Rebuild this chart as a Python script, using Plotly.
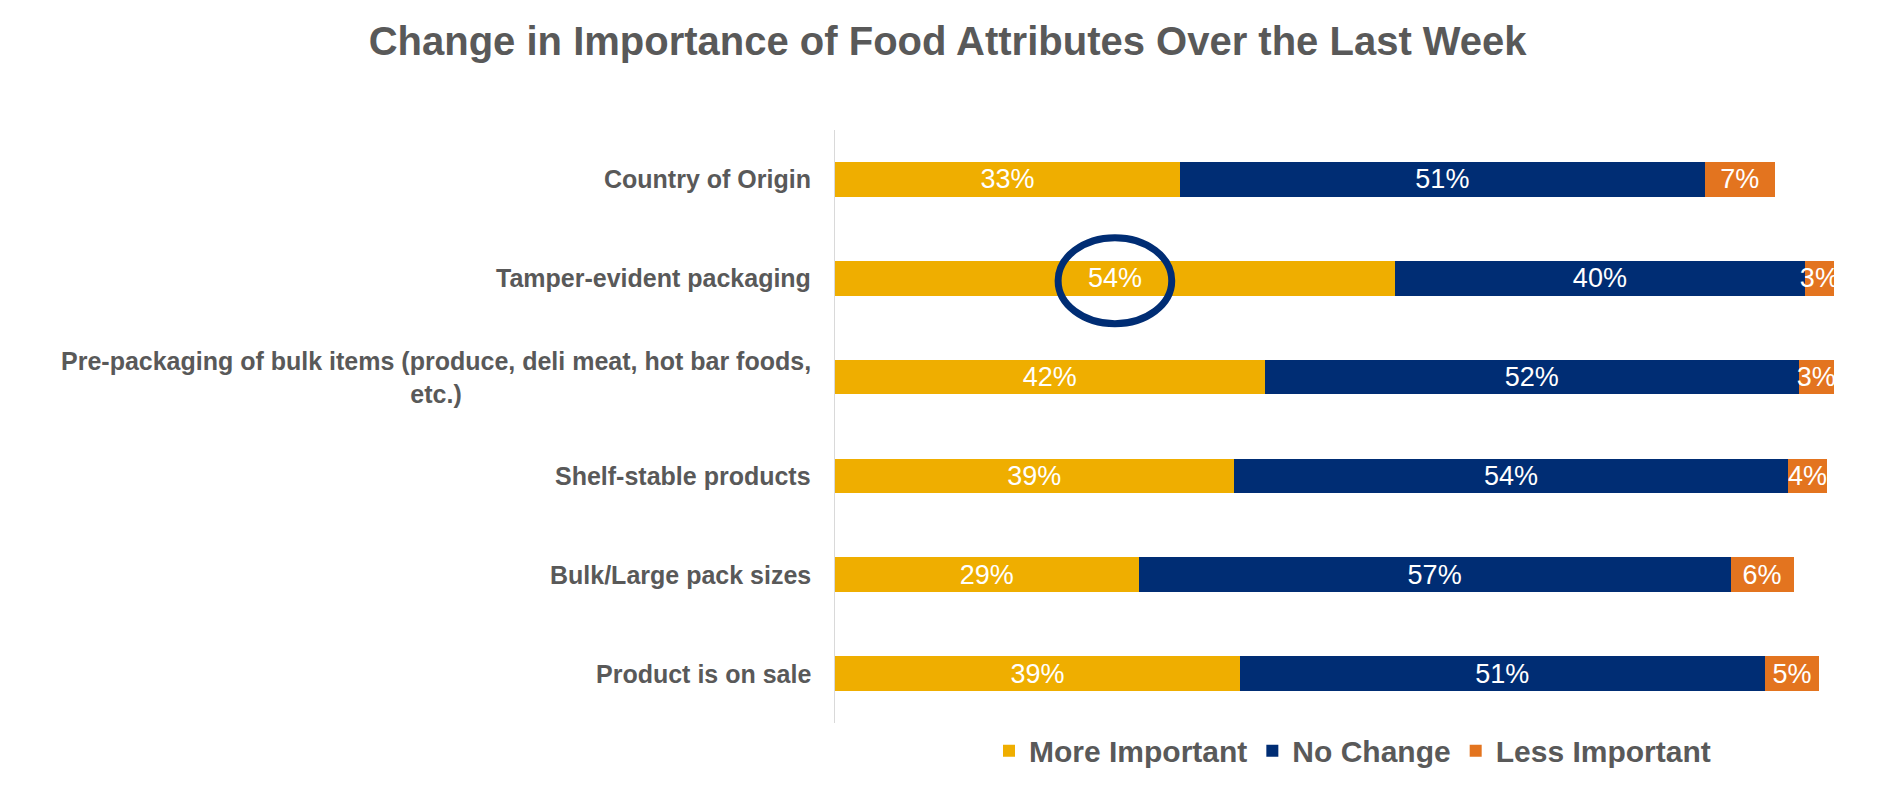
import plotly.graph_objects as go

categories = [
    "Country of Origin",
    "Tamper-evident packaging",
    "Pre-packaging of bulk items (produce, deli meat, hot bar foods,<br>etc.)",
    "Shelf-stable products",
    "Bulk/Large pack sizes",
    "Product is on sale",
]
more_important = [33.4, 54.2, 41.6, 38.6, 29.4, 39.2]
no_change = [50.8, 39.7, 51.7, 53.7, 57.3, 50.8]
less_important = [6.8, 2.8, 3.4, 3.7, 6.1, 5.3]

series = [
    ("More Important", more_important, "#EFAE00"),
    ("No Change", no_change, "#002D74"),
    ("Less Important", less_important, "#E3741F"),
]

FONT = "Liberation Sans, Arial, sans-serif"
GRAY = "#595959"

fig = go.Figure()
for name, vals, color in series:
    fig.add_trace(go.Bar(
        y=categories, x=vals, name=name, orientation="h",
        marker=dict(color=color, line=dict(width=0)),
        texttemplate="%{x:.0f}%", textposition="inside", textangle=0,
        insidetextanchor="middle",
        textfont=dict(family=FONT, size=27, color="white"),
    ))

# category labels (centered multi-line, right-anchored at the axis)
for cat in categories:
    fig.add_annotation(
        x=0, y=cat, xref="x", yref="y", text=cat, showarrow=False,
        xanchor="right", yanchor="middle", align="center", xshift=-22,
        font=dict(family=FONT, size=25, color=GRAY, weight="bold"),
    )

# highlight ellipse around Tamper-evident "More Important" label
idx = 1
cx = more_important[idx] / 2
fig.add_shape(
    type="circle", xref="x", yref="y",
    x0=cx - 5.5, x1=cx + 5.5, y0=idx - 0.41, y1=idx + 0.46,
    line=dict(color="#002D74", width=7), fillcolor="rgba(0,0,0,0)",
)

fig.update_layout(
    barmode="stack",
    bargap=0.65,
    width=1884, height=788,
    paper_bgcolor="white", plot_bgcolor="white",
    margin=dict(l=835, r=14, t=130, b=64),
    title=dict(
        text="Change in Importance of Food Attributes Over the Last Week",
        x=0.503, xref="container", xanchor="center",
        y=1 - 41 / 788, yref="container", yanchor="middle",
        font=dict(family=FONT, size=40, color=GRAY, weight="bold"),
    ),
    uniformtext=dict(minsize=27, mode="show"),
    showlegend=True,
    legend=dict(
        orientation="h", x=0.5, xanchor="center", y=-0.045, yanchor="middle",
        font=dict(family=FONT, size=30, color=GRAY, weight="bold"),
        traceorder="normal",
    ),
    xaxis=dict(range=[0, 100.2], showgrid=False, zeroline=False,
               showticklabels=False, showline=False),
    yaxis=dict(autorange="reversed", showgrid=False, zeroline=False,
               showticklabels=False, showline=True, linecolor="#D9D9D9",
               linewidth=1, ticks=""),
)

fig.write_html(
    "out.html",
    config={"displayModeBar": False},
    post_script="document.body.style.margin='0';document.body.style.overflow='hidden';",
)
